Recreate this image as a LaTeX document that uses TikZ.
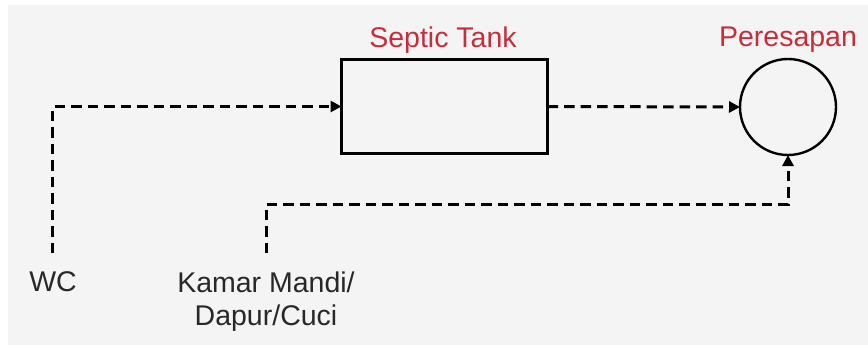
\documentclass[tikz,border=0pt]{standalone}
\usepackage{fontspec}
\setmainfont{Liberation Sans}
\usetikzlibrary{arrows.meta}
\definecolor{bgray}{RGB}{244,244,244}
\definecolor{lblred}{RGB}{200,45,60}
\definecolor{txtgray}{RGB}{40,40,40}
\begin{document}
\begin{tikzpicture}[x=1pt,y=-1pt,
  lbl/.style={font=\fontsize{28.5}{33}\selectfont, text=txtgray, inner sep=0pt, align=center},
  title/.style={font=\fontsize{28.5}{33}\selectfont, text=lblred, inner sep=0pt},
  flow/.style={draw=black, line width=3pt, dash pattern=on 10.5pt off 6pt,
    -{Triangle[length=11pt,width=11pt]}}]
\useasboundingbox (0,0) rectangle (868,345);
\fill[white] (0,0) rectangle (868,345);
\fill[bgray] (8,5) rectangle (868,345);
% main shapes
\node[draw, line width=3.2pt, minimum width=206pt, minimum height=94pt, inner sep=0pt, outer sep=0pt] (tank) at (444.5,106.5) {};
\node[draw, circle, line width=2.4pt, minimum size=96pt, inner sep=0pt, outer sep=0pt] (pres) at (788,107) {};
% labels
\node[title] (tanklbl) at (443,40) {Septic Tank};
\node[title] (preslbl) at (788,40) {Peresapan};
\node[lbl] (wc) at (53,282) {WC};
\node[lbl] (km) at (266,301.5) {Kamar Mandi/\\Dapur/Cuci};
% connector ends
\coordinate (wcstart) at (52.5,253);
\coordinate (kmstart) at (266,253);
\coordinate (kmbend) at (266,204);
% connectors
\draw[flow] (wcstart) |- (tank.west);
\draw[flow] (tank.east) -- (pres.west);
\draw[flow] (kmstart) -- (kmbend) -| (pres.south);
\end{tikzpicture}
\end{document}
